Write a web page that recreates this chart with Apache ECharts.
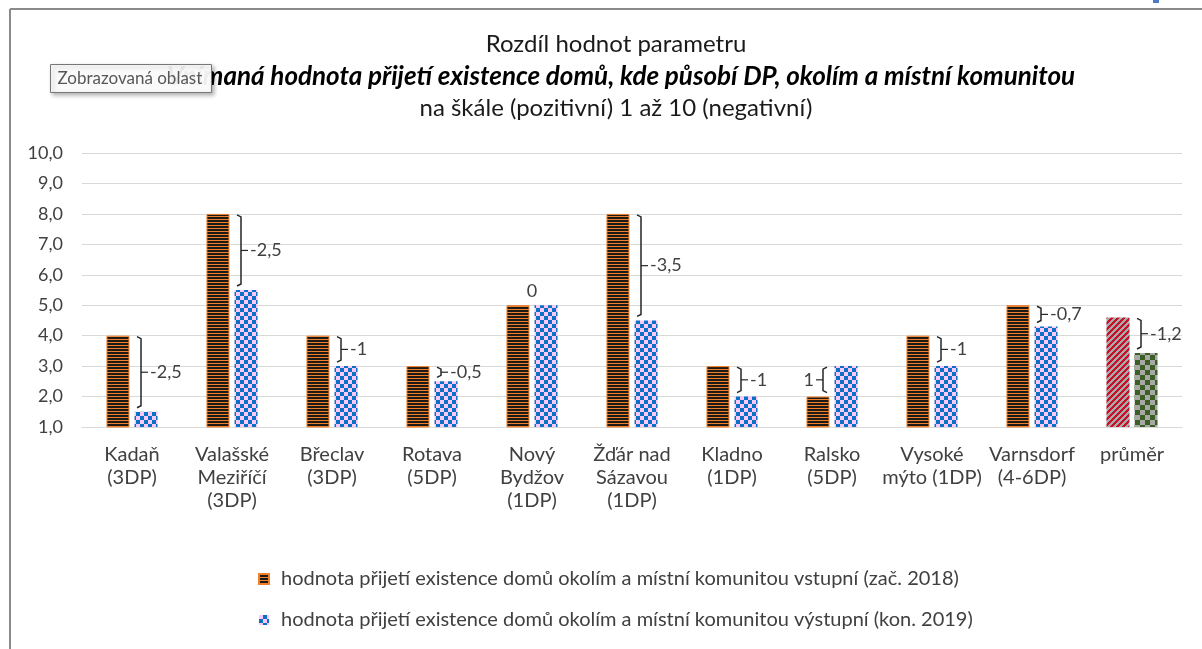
<!DOCTYPE html>
<html>
<head>
<meta charset="utf-8">
<script src="https://cdn.jsdelivr.net/npm/echarts@6/dist/echarts.min.js"></script>
<style>
html, body { margin: 0; padding: 0; background: #fff; }
#main { width: 1202px; height: 649px; }
</style>
</head>
<body>
<div id="main"></div>
<script>
// data
var mesta = ['Kadaň\n(3DP)', 'Valašské\nMeziříčí\n(3DP)', 'Břeclav\n(3DP)', 'Rotava\n(5DP)',
    'Nový\nBydžov\n(1DP)', 'Žďár nad\nSázavou\n(1DP)', 'Kladno\n(1DP)', 'Ralsko\n(5DP)',
    'Vysoké\nmýto (1DP)', 'Varnsdorf\n(4-6DP)', 'průměr'];
var vstupni = [4, 8, 4, 3, 5, 8, 3, 2, 4, 5, 4.6];
var vystupni = [1.5, 5.5, 3, 2.5, 5, 4.5, 2, 3, 3, 4.3, 3.43];
var rozdil = ['-2,5', '-2,5', '-1', '-0,5', '0', '-3,5', '-1', '1', '-1', '-0,7', '-1,2'];
var yMin = 1, yMax = 10, yStep = 1;

var nazev1 = 'hodnota přijetí existence domů okolím a místní komunitou vstupní (zač. 2018)';
var nazev2 = 'hodnota přijetí existence domů okolím a místní komunitou výstupní (kon. 2019)';

var FONT = 'Lato';
var TXT = '#404040';

// pixel patterns (like excel pattern fills)
function pattern(w, h, pick) {
    var c = document.createElement('canvas');
    c.width = w; c.height = h;
    var ctx = c.getContext('2d');
    for (var x = 0; x < w; x++) {
        for (var y = 0; y < h; y++) {
            ctx.fillStyle = pick(x, y);
            ctx.fillRect(x, y, 1, 1);
        }
    }
    return { image: c, repeat: 'repeat' };
}
var pruhy = pattern(1, 3, function (x, y) { return y % 3 == 0 ? '#f0802c' : '#1e1a16'; });
var sachy = pattern(8, 8, function (x, y) { return ((x >> 2) + (y >> 2)) % 2 ? '#0a72c4' : '#fcc8fc'; });
var sikme = pattern(6, 6, function (x, y) { return ((x + y) % 6) < 3 ? '#c8102a' : '#a9a9a9'; });
var zelene = pattern(10, 10, function (x, y) { return ((Math.floor(x / 5)) + Math.floor(y / 5)) % 2 ? '#3b5f22' : '#a8a8a8'; });

var data1 = vstupni.map(function (v, i) {
    if (i == vstupni.length - 1) return { value: v, itemStyle: { color: sikme, borderWidth: 0 } };
    return v;
});
var data2 = vystupni.map(function (v, i) {
    if (i == vystupni.length - 1) return { value: v, itemStyle: { color: zelene } };
    return v;
});
var zavorky = vstupni.map(function (v, i) { return [i, v, vystupni[i]]; });

function kresliZavorku(params, api) {
    var i = api.value(0), a = api.value(1), b = api.value(2);
    var txt = rozdil[params.dataIndex];
    var hore = api.coord([i, Math.max(a, b)]);
    var dole = api.coord([i, Math.min(a, b)]);
    var font = '18px ' + FONT;
    if (a == b) {
        return {
            type: 'text',
            style: { x: hore[0], y: hore[1] - 5, text: txt, textAlign: 'center', textVerticalAlign: 'bottom', fill: TXT, font: font }
        };
    }
    var s = b > a ? -1 : 1;
    var x = hore[0] + s * 9;
    var t = hore[1] + 1, d = dole[1] - 4, m = (t + d) / 2;
    return {
        type: 'group',
        children: [
            {
                type: 'polyline',
                shape: { points: [[x - s * 4, t], [x, t + 2], [x, d - 2], [x - s * 4, d]] },
                style: { stroke: '#262626', lineWidth: 1.5, fill: null }
            },
            {
                type: 'line',
                shape: { x1: x, y1: m, x2: x + s * 7, y2: m },
                style: { stroke: '#262626', lineWidth: 1.2 }
            },
            {
                type: 'text',
                style: { x: x + s * 9, y: m, text: txt, textAlign: s > 0 ? 'left' : 'right', textVerticalAlign: 'middle', fill: TXT, font: font }
            }
        ]
    };
}

var option = {
    backgroundColor: '#fff',
    animation: false,
    graphic: [
        { type: 'line', shape: { x1: 10, y1: 9, x2: 1202, y2: 9 }, style: { stroke: '#8a8a8a', lineWidth: 2 } },
        { type: 'line', shape: { x1: 10, y1: 9, x2: 10, y2: 649 }, style: { stroke: '#8a8a8a', lineWidth: 2 } },
        { type: 'rect', shape: { x: 1153, y: 0, width: 6, height: 3 }, style: { fill: '#4a7bc8' } },
        { type: 'text', x: 616, y: 44, style: { text: 'Rozdíl hodnot parametru', font: '24px ' + FONT, fill: '#1a1a1a', textAlign: 'center', textVerticalAlign: 'middle' } },
        { type: 'text', x: 621, y: 77, style: { text: 'Vnímaná hodnota přijetí existence domů, kde působí DP, okolím a místní komunitou', font: 'italic bold 26px ' + FONT, fill: '#000', textAlign: 'center', textVerticalAlign: 'middle' } },
        { type: 'text', x: 616, y: 108, style: { text: 'na škále (pozitivní) 1 až 10 (negativní)', font: '24px ' + FONT, fill: '#1a1a1a', textAlign: 'center', textVerticalAlign: 'middle' } },
        {
            type: 'group', left: 50, top: 64, z: 100,
            children: [
                { type: 'rect', shape: { x: 0, y: 0, width: 161, height: 28 }, style: { fill: 'rgba(255,255,255,0.93)', stroke: '#777', lineWidth: 1, shadowBlur: 4, shadowOffsetX: 2, shadowOffsetY: 2, shadowColor: 'rgba(0,0,0,0.3)' } },
                { type: 'text', x: 7, y: 14, style: { text: 'Zobrazovaná oblast', font: '17px ' + FONT, fill: '#575757', textVerticalAlign: 'middle' } }
            ]
        }
    ],
    legend: {
        data: [nazev1, nazev2],
        orient: 'vertical',
        left: 258,
        top: 569,
        padding: 0,
        itemGap: 21,
        itemWidth: 10,
        itemHeight: 10,
        icon: 'rect',
        textStyle: { fontFamily: FONT, fontSize: 20, lineHeight: 20, color: TXT, padding: [0, 0, 0, 7] }
    },
    grid: { left: 82, right: 20, top: 153, bottom: 222 },
    xAxis: {
        type: 'category',
        data: mesta,
        axisLine: { lineStyle: { color: '#d9d9d9', width: 1 } },
        axisTick: { show: false },
        axisLabel: { interval: 0, fontFamily: FONT, fontSize: 20, lineHeight: 23, color: TXT, margin: 16 }
    },
    yAxis: {
        type: 'value',
        min: yMin,
        max: yMax,
        interval: yStep,
        axisLine: { show: false },
        axisTick: { show: false },
        splitLine: { lineStyle: { color: '#d9d9d9', width: 1 } },
        axisLabel: {
            fontFamily: FONT, fontSize: 18, color: TXT, margin: 19,
            formatter: function (v) { return v.toFixed(1).replace('.', ','); }
        }
    },
    series: [
        {
            name: nazev1,
            type: 'bar',
            barWidth: 23,
            barGap: '22%',
            itemStyle: { color: pruhy, borderColor: '#f0802c', borderWidth: 1 },
            data: data1
        },
        {
            name: nazev2,
            type: 'bar',
            barWidth: 23,
            itemStyle: { color: sachy },
            data: data2
        },
        {
            name: 'rozdíl',
            type: 'custom',
            silent: true,
            z: 5,
            renderItem: kresliZavorku,
            encode: { x: 0, y: [1, 2] },
            data: zavorky
        }
    ]
};

var chart = echarts.init(document.getElementById('main'));
chart.setOption(option);
</script>
</body>
</html>
